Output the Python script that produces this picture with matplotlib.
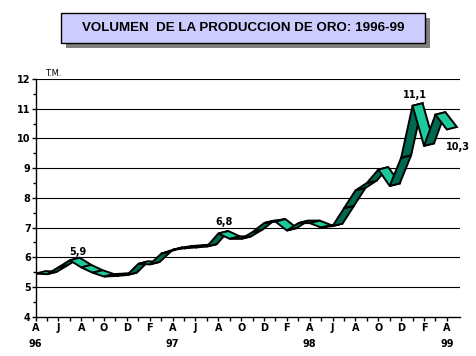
import matplotlib
matplotlib.use("Agg")
import matplotlib.pyplot as plt
from matplotlib.patches import Polygon, Rectangle
import numpy as np

# volumen mensual (T.M.), abril 1996 - abril 1999
produccion = [5.45, 5.43, 5.66, 5.90, 5.66, 5.48, 5.35, 5.37, 5.40, 5.78,
              5.76, 6.12, 6.25, 6.30, 6.33, 6.36, 6.80, 6.62, 6.62, 6.85,
              7.15, 7.20, 6.90, 7.15, 7.15, 7.00, 7.05, 7.65, 8.25, 8.50,
              8.95, 8.40, 9.35, 11.10, 9.75, 10.80, 10.30]
etiquetas_x = ["A\n96", "J", "A", "O", "D", "F", "A\n97", "J", "A", "O", "D", "F",
               "A\n98", "J", "A", "O", "D", "F", "A\n99"]
marcados = [3, 16, 33, 36]
textos = ["5,9", "6,8", "11,1", "10,3"]

W, H = 477, 356
fig = plt.figure(figsize=(W / 100, H / 100), dpi=100)
fig.patch.set_facecolor("white")

# axes area in pixels
L, R, T, B = 35.5, 460, 79, 316.7
ax = fig.add_axes([L / W, 1 - B / H, (R - L) / W, (B - T) / H])
xmax = 37.15
ax.set_xlim(0, xmax)
ax.set_ylim(4, 12)

fnt = dict(family="DejaVu Sans", weight="bold", size=7)

for v in range(5, 13):
    ax.axhline(v, color="black", lw=0.8, zorder=1)

# ribbon (3D line), back edge shifted right / slightly up
px_x = (R - L) / xmax
px_y = (B - T) / 8
ddx, ddy = 10 / px_x, 2.5 / px_y
oscuro, claro = "#006a50", "#1cc99b"
x = np.arange(len(produccion))
y = np.array(produccion)
for i in range(len(x) - 1):
    col = oscuro if y[i + 1] >= y[i] else claro
    pts = [(x[i], y[i]), (x[i + 1], y[i + 1]),
           (x[i + 1] + ddx, y[i + 1] + ddy), (x[i] + ddx, y[i] + ddy)]
    ax.add_patch(Polygon(pts, closed=True, facecolor=col, edgecolor="black",
                         lw=1.4, zorder=3))

offs = [(6, 2), (4, 5), (2, 4), (8, -9)]
for i, t, o in zip(marcados, textos, offs):
    ax.annotate(t, xy=(x[i], y[i]), xytext=o, textcoords="offset points",
                ha="center", va="bottom" if o[1] > 0 else "top", annotation_clip=False,
                **fnt)

for s in ["top", "right"]:
    ax.spines[s].set_visible(False)
ax.spines["left"].set_linewidth(1.0)
ax.spines["bottom"].set_linewidth(1.0)

ax.set_yticks(range(4, 13))
ax.set_yticklabels([str(v) for v in range(4, 13)], **fnt)
ax.set_yticks(np.arange(4.5, 12, 1), minor=True)
ax.tick_params(axis="y", which="major", direction="out", length=3, width=1, pad=0.5)
ax.tick_params(axis="y", which="minor", direction="out", length=2, width=1)

ax.set_xticks(range(0, 37, 2))
ax.set_xticklabels(etiquetas_x, **fnt)
ax.set_xticks(range(0, 37), minor=True)
ax.tick_params(axis="x", which="both", direction="out", length=3, width=1, pad=1.5)
for t in ax.get_xticklabels():
    t.set_linespacing(1.75)

fig.text(53 / W, 1 - 73 / H, "T.M.", ha="center", va="center",
         family="DejaVu Sans", size=6)

# title box with shadow
bx0, bx1, by0, by1 = 60.7, 425, 12.7, 43.3
fig.patches.append(Rectangle(((bx0 + 5) / W, 1 - (by1 + 5) / H), (bx1 - bx0) / W,
                             (by1 - by0) / H, transform=fig.transFigure,
                             facecolor="#808080", edgecolor="none", zorder=1))
fig.patches.append(Rectangle((bx0 / W, 1 - by1 / H), (bx1 - bx0) / W, (by1 - by0) / H,
                             transform=fig.transFigure, facecolor="#ccccff",
                             edgecolor="black", lw=1.0, zorder=2))
fig.text((bx0 + bx1) / 2 / W, 1 - 28 / H, "VOLUMEN  DE LA PRODUCCION DE ORO: 1996-99",
         ha="center", va="center", family="Liberation Sans", weight="bold",
         size=9.6, zorder=3)

fig.savefig("out.png", dpi=100)
